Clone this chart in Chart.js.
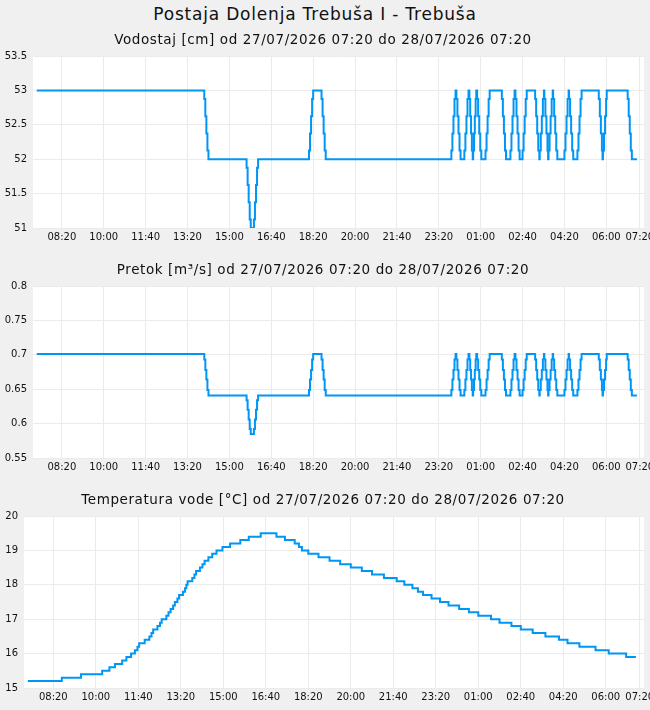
<!DOCTYPE html>
<html>
<head>
<meta charset="utf-8">
<script src="https://cdn.jsdelivr.net/npm/chart.js@4/dist/chart.umd.min.js"></script>
<style>
  body { margin: 0; background: #f0f0f0; font-family: 'DejaVu Sans', sans-serif; }
  #page { position: relative; width: 650px; height: 710px; overflow: hidden; }
  canvas { position: absolute; left: 0; }
  .title { position: absolute; left: 0; width: 650px; text-align: center; color: #111; white-space: nowrap; z-index: 2; }
  .main { top: 6px; left: -10px; font-size: 17px; line-height: 17px; letter-spacing: 0.8px; }
  .sub { left: -2px; font-size: 13.5px; line-height: 13.5px; letter-spacing: 0.6px; }
</style>
</head>
<body>
<div id="page">
  <div class="title main">Postaja Dolenja Trebuša I - Trebuša</div>
  <div class="title sub" style="top:32.5px">Vodostaj [cm] od 27/07/2026 07:20 do 28/07/2026 07:20</div>
  <div class="title sub" style="top:262.5px">Pretok [m³/s] od 27/07/2026 07:20 do 28/07/2026 07:20</div>
  <div class="title sub" style="top:492.5px">Temperatura vode [°C] od 27/07/2026 07:20 do 28/07/2026 07:20</div>
  <canvas id="level" width="650" height="206" style="top:44px"></canvas>
  <canvas id="flow" width="650" height="206" style="top:274px"></canvas>
  <canvas id="temp" width="650" height="206" style="top:504px"></canvas>
</div>
<script>
// minutes since 27/07/2026 07:20
const xTickMinutes = [60, 160, 260, 360, 460, 560, 660, 760, 860, 960, 1060, 1160, 1260, 1360, 1440];
const xTickLabels = ['08:20', '10:00', '11:40', '13:20', '15:00', '16:40', '18:20', '20:00', '21:40', '23:20', '01:00', '02:40', '04:20', '06:00', '07:20'];

const levelMinutes = [
  0, 400, 402.5, 405, 407.5, 410,
  501, 503.5, 506, 508.5, 511, 518.5, 521, 523.5, 526, 528.5,
  650, 652.5, 655, 657.5, 660, 680, 682.5, 685, 687.5, 690,
  990, 992.5, 995, 997.5, 1000, 1002, 1004.5, 1007, 1009.5, 1012,
  1021, 1023.5, 1026, 1028.5, 1031, 1033, 1035, 1037, 1039, 1041,
  1042, 1044, 1046, 1048, 1049.5, 1051.5, 1054, 1056.5, 1059, 1061.5,
  1071.5, 1074, 1076.5, 1079, 1081.5, 1110.5, 1113, 1115.5, 1118, 1120.5,
  1131, 1133.5, 1136, 1138.5, 1141, 1143, 1145.5, 1148, 1150.5, 1153,
  1160, 1162.5, 1165, 1167.5, 1170, 1190, 1192.5, 1195, 1197.5, 1200,
  1201, 1203.5, 1206, 1208.5, 1211, 1212, 1214.5, 1217, 1219.5, 1221,
  1222, 1224.5, 1227, 1229.5, 1232, 1233, 1235.5, 1238, 1240.5, 1243,
  1260, 1262.5, 1265, 1267.5, 1270, 1271, 1273.5, 1276, 1278.5, 1281,
  1291, 1293.5, 1296, 1298.5, 1301, 1342, 1344.5, 1347, 1349.5, 1351,
  1352, 1354.5, 1357, 1359.5, 1361, 1411, 1413.5, 1416, 1418.5, 1421,
  1433
];
const levelValues = [
  53, 52.875, 52.625, 52.375, 52.125, 52,
  51.875, 51.625, 51.375, 51.125, 51, 51.125, 51.375, 51.625, 51.875, 52,
  52.125, 52.375, 52.625, 52.875, 53, 52.875, 52.625, 52.375, 52.125, 52,
  52.125, 52.375, 52.625, 52.875, 53, 52.875, 52.625, 52.375, 52.125, 52,
  52.125, 52.375, 52.625, 52.875, 53, 52.875, 52.625, 52.375, 52.125, 52,
  52.125, 52.375, 52.625, 52.875, 53, 52.875, 52.625, 52.375, 52.125, 52,
  52.125, 52.375, 52.625, 52.875, 53, 52.875, 52.625, 52.375, 52.125, 52,
  52.125, 52.375, 52.625, 52.875, 53, 52.875, 52.625, 52.375, 52.125, 52,
  52.125, 52.375, 52.625, 52.875, 53, 52.875, 52.625, 52.375, 52.125, 52,
  52.125, 52.375, 52.625, 52.875, 53, 52.875, 52.625, 52.375, 52.125, 52,
  52.125, 52.375, 52.625, 52.875, 53, 52.875, 52.625, 52.375, 52.125, 52,
  52.125, 52.375, 52.625, 52.875, 53, 52.875, 52.625, 52.375, 52.125, 52,
  52.125, 52.375, 52.625, 52.875, 53, 52.875, 52.625, 52.375, 52.125, 52,
  52.125, 52.375, 52.625, 52.875, 53, 52.875, 52.625, 52.375, 52.125, 52,
  52
];
const flowValues = [
  0.701, 0.693, 0.678, 0.664, 0.649, 0.641,
  0.634, 0.620, 0.606, 0.592, 0.585, 0.592, 0.606, 0.620, 0.634, 0.641,
  0.649, 0.664, 0.678, 0.693, 0.701, 0.693, 0.678, 0.664, 0.649, 0.641,
  0.649, 0.664, 0.678, 0.693, 0.701, 0.693, 0.678, 0.664, 0.649, 0.641,
  0.649, 0.664, 0.678, 0.693, 0.701, 0.693, 0.678, 0.664, 0.649, 0.641,
  0.649, 0.664, 0.678, 0.693, 0.701, 0.693, 0.678, 0.664, 0.649, 0.641,
  0.649, 0.664, 0.678, 0.693, 0.701, 0.693, 0.678, 0.664, 0.649, 0.641,
  0.649, 0.664, 0.678, 0.693, 0.701, 0.693, 0.678, 0.664, 0.649, 0.641,
  0.649, 0.664, 0.678, 0.693, 0.701, 0.693, 0.678, 0.664, 0.649, 0.641,
  0.649, 0.664, 0.678, 0.693, 0.701, 0.693, 0.678, 0.664, 0.649, 0.641,
  0.649, 0.664, 0.678, 0.693, 0.701, 0.693, 0.678, 0.664, 0.649, 0.641,
  0.649, 0.664, 0.678, 0.693, 0.701, 0.693, 0.678, 0.664, 0.649, 0.641,
  0.649, 0.664, 0.678, 0.693, 0.701, 0.693, 0.678, 0.664, 0.649, 0.641,
  0.649, 0.664, 0.678, 0.693, 0.701, 0.693, 0.678, 0.664, 0.649, 0.641,
  0.641
];

const tempMinutes = [
  0, 80, 125, 175, 192, 205, 222, 232, 243, 252, 258, 262, 275, 286, 291, 295,
  305, 311, 315, 326, 331, 336, 342, 346, 352, 356, 365, 370, 373, 376, 387, 392,
  396, 405, 411, 416, 425, 434, 444, 458, 476, 500, 520, 548, 585, 605, 628, 638,
  645, 660, 684, 710, 735, 760, 786, 810, 838, 868, 886, 905, 918, 930, 950, 970,
  990, 1015, 1038, 1060, 1090, 1110, 1138, 1160, 1188, 1218, 1250, 1270, 1298, 1336, 1367, 1408,
  1431
];
const tempValues = [
  15.2, 15.3, 15.4, 15.5, 15.6, 15.7, 15.8, 15.9, 16.0, 16.1, 16.2, 16.3, 16.4, 16.5, 16.6, 16.7,
  16.8, 16.9, 17.0, 17.1, 17.2, 17.3, 17.4, 17.5, 17.6, 17.7, 17.8, 17.9, 18.0, 18.1, 18.2, 18.3,
  18.4, 18.5, 18.6, 18.7, 18.8, 18.9, 19.0, 19.1, 19.2, 19.3, 19.4, 19.5, 19.4, 19.3, 19.2, 19.1,
  19.0, 18.9, 18.8, 18.7, 18.6, 18.5, 18.4, 18.3, 18.2, 18.1, 18.0, 17.9, 17.8, 17.7, 17.6, 17.5,
  17.4, 17.3, 17.2, 17.1, 17.0, 16.9, 16.8, 16.7, 16.6, 16.5, 16.4, 16.3, 16.2, 16.1, 16.0, 15.9,
  15.9
];

const levelTicks = [51, 51.5, 52, 52.5, 53, 53.5];
const flowTicks = [0.55, 0.6, 0.65, 0.7, 0.75, 0.8];
const tempTicks = [15, 16, 17, 18, 19, 20];

Chart.defaults.font.family = "'DejaVu Sans', sans-serif";
Chart.defaults.font.size = 10;
Chart.defaults.color = '#111';

// white plot background
const plotBg = {
  id: 'plotBg',
  beforeDraw(chart) {
    const a = chart.chartArea;
    chart.ctx.save();
    chart.ctx.fillStyle = '#ffffff';
    chart.ctx.fillRect(a.left, a.top, a.right - a.left, a.bottom - a.top);
    chart.ctx.restore();
  }
};

function makeChart(id, xs, ys, yTicks, axisWidth) {
  const points = xs.map((x, i) => ({ x: x, y: ys[i] }));
  return new Chart(document.getElementById(id), {
    type: 'line',
    data: {
      datasets: [{
        data: points,
        stepped: true,
        borderColor: '#0096f5',
        borderWidth: 2,
        pointRadius: 0,
        fill: false
      }]
    },
    options: {
      responsive: false,
      animation: false,
      devicePixelRatio: 1,
      layout: { padding: { left: 0, right: 6, top: 12, bottom: 0 } },
      scales: {
        x: {
          type: 'linear',
          min: -9,
          max: 1450,
          afterBuildTicks: (axis) => { axis.ticks = xTickMinutes.map(v => ({ value: v })); },
          afterFit: (axis) => {
            axis.height = 22;
            axis.paddingLeft = 0;
            axis.paddingRight = 0;
          },
          ticks: {
            maxRotation: 0,
            autoSkip: false,
            padding: 3,
            callback: (v, i) => xTickLabels[i]
          },
          grid: { color: '#ebebeb', drawTicks: false },
          border: { display: false }
        },
        y: {
          min: yTicks[0],
          max: yTicks[yTicks.length - 1],
          afterBuildTicks: (axis) => { axis.ticks = yTicks.map(v => ({ value: v })); },
          afterFit: (axis) => {
            axis.width = axisWidth;
            axis.paddingTop = 0;
            axis.paddingBottom = 0;
          },
          ticks: { padding: 6, callback: (v) => String(v) },
          grid: { color: '#ebebeb', drawTicks: false },
          border: { display: false }
        }
      },
      plugins: {
        legend: { display: false },
        tooltip: { enabled: false }
      }
    },
    plugins: [plotBg]
  });
}

makeChart('level', levelMinutes, levelValues, levelTicks, 33);
makeChart('flow', levelMinutes, flowValues, flowTicks, 33);
makeChart('temp', tempMinutes, tempValues, tempTicks, 24);
</script>
</body>
</html>
